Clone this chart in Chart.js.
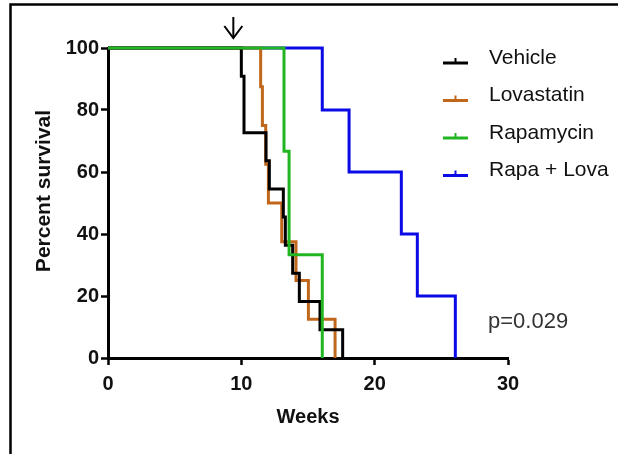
<!DOCTYPE html>
<html>
<head>
<meta charset="utf-8">
<script src="https://cdn.jsdelivr.net/npm/chart.js@4.4.0/dist/chart.umd.min.js"></script>
<style>
  html, body { margin: 0; padding: 0; background: #fff; }
  #wrap { width: 618px; height: 454px; }
</style>
</head>
<body>
<div id="wrap"><canvas id="c" width="618" height="454"></canvas></div>
<script>
// Kaplan-Meier step data (weeks, percent survival)
const seriesNames = ["Vehicle", "Lovastatin", "Rapamycin", "Rapa + Lova"];
const seriesColors = ["#000000", "#c0671c", "#22b522", "#0a0ae6"];
const seriesOrder = [1, 2, 0, 3]; // lower = drawn on top
const vehicleWeeks   = [0, 10.0, 10.2, 11.85, 12.1, 13.15, 13.3, 13.85, 14.35, 15.9, 17.6];
const vehicleSurv    = [100, 90.9, 72.7, 63.6, 54.5, 45.5, 36.4, 27.3, 18.2, 9.1, 0];
const lovaWeeks      = [0, 11.45, 11.58, 11.83, 12.03, 13.03, 14.1, 15.03, 17.03];
const lovaSurv       = [100, 87.5, 75, 62.5, 50, 37.5, 25, 12.5, 0];
const rapaWeeks      = [0, 13.2, 13.58, 16.07];
const rapaSurv       = [100, 66.7, 33.3, 0];
const comboWeeks     = [0, 16.07, 18.08, 22.0, 23.2, 26.05];
const comboSurv      = [100, 80, 60, 40, 20, 0];
const xTicks = [0, 10, 20, 30];
const yTicks = [0, 20, 40, 60, 80, 100];
const pValueText = "p=0.029";
const arrowWeek = 9.4;

function pts(xs, ys) { return xs.map((x, i) => ({ x: x, y: ys[i] })); }
const allData = [pts(vehicleWeeks, vehicleSurv), pts(lovaWeeks, lovaSurv), pts(rapaWeeks, rapaSurv), pts(comboWeeks, comboSurv)];
const datasets = seriesNames.map((n, i) => ({
  label: n,
  data: allData[i],
  showLine: true,
  stepped: 'before',
  borderColor: seriesColors[i],
  borderWidth: 3,
  pointRadius: 0,
  fill: false,
  clip: false,
  order: seriesOrder[i]
}));

const decor = {
  id: 'decor',
  afterDraw(chart) {
    const ctx = chart.ctx;
    const xs = chart.scales.x;
    ctx.save();
    // figure border (top and left)
    ctx.strokeStyle = '#000'; ctx.lineWidth = 2.5;
    ctx.beginPath(); ctx.moveTo(10.5, 454); ctx.lineTo(10.5, 4.5); ctx.lineTo(618, 4.5); ctx.stroke();
    // axis titles
    ctx.fillStyle = '#111';
    ctx.font = 'bold 20px "Liberation Sans", Arial, sans-serif';
    ctx.textAlign = 'center'; ctx.textBaseline = 'middle';
    ctx.fillText('Weeks', (xs.left + xs.right) / 2, 417);
    ctx.save();
    ctx.translate(44, 191); ctx.rotate(-Math.PI / 2);
    ctx.font = 'bold 21px "Liberation Sans", Arial, sans-serif';
    ctx.fillText('Percent survival', 0, 0);
    ctx.restore();
    // arrow
    const ax = xs.getPixelForValue(arrowWeek);
    ctx.strokeStyle = '#000'; ctx.lineWidth = 2;
    ctx.beginPath(); ctx.moveTo(ax, 17); ctx.lineTo(ax, 38); ctx.stroke();
    ctx.beginPath(); ctx.moveTo(ax - 9, 26); ctx.lineTo(ax, 38); ctx.lineTo(ax + 9, 26); ctx.stroke();
    // legend
    ctx.font = '21px "Liberation Sans", Arial, sans-serif';
    ctx.textAlign = 'left'; ctx.textBaseline = 'middle';
    seriesNames.forEach((n, i) => {
      const cy = 58 + i * 37.5;
      ctx.strokeStyle = seriesColors[i]; ctx.lineWidth = 3;
      ctx.beginPath(); ctx.moveTo(443, cy + 5); ctx.lineTo(468, cy + 5); ctx.stroke();
      ctx.lineWidth = 2;
      ctx.beginPath(); ctx.moveTo(455.5, cy + 5); ctx.lineTo(455.5, cy); ctx.stroke();
      ctx.fillStyle = '#111';
      ctx.fillText(n, 489, cy);
    });
    // p value
    ctx.font = '22px "Liberation Sans", Arial, sans-serif';
    ctx.fillStyle = '#333';
    ctx.fillText(pValueText, 488, 322);
    ctx.restore();
  }
};

new Chart(document.getElementById('c'), {
  type: 'scatter',
  data: { datasets: datasets },
  options: {
    responsive: false,
    animation: false,
    devicePixelRatio: 1,
    layout: { padding: { left: 0, top: 48, right: 110, bottom: 0 } },
    plugins: { legend: { display: false }, tooltip: { enabled: false } },
    scales: {
      x: {
        type: 'linear', min: 0, max: 30,
        afterBuildTicks(s) { s.ticks = xTicks.map(v => ({ value: v })); },
        afterFit(s) { s.height = 96; },
        grid: { drawOnChartArea: false, drawTicks: true, tickLength: 7, tickWidth: 2.5, color: '#000' },
        border: { display: true, color: '#000', width: 3 },
        ticks: { color: '#111', padding: 7, font: { family: '"Liberation Sans", Arial, sans-serif', size: 20, weight: 'bold' } },
        title: { display: false }
      },
      y: {
        type: 'linear', min: 0, max: 100,
        afterBuildTicks(s) { s.ticks = yTicks.map(v => ({ value: v })); },
        afterFit(s) { s.width = 108; },
        grid: { drawOnChartArea: false, drawTicks: true, tickLength: 7, tickWidth: 2.5, color: '#000' },
        border: { display: true, color: '#000', width: 3 },
        ticks: { color: '#111', padding: 2, font: { family: '"Liberation Sans", Arial, sans-serif', size: 20, weight: 'bold' } },
        title: { display: false }
      }
    }
  },
  plugins: [decor]
});
</script>
</body>
</html>
